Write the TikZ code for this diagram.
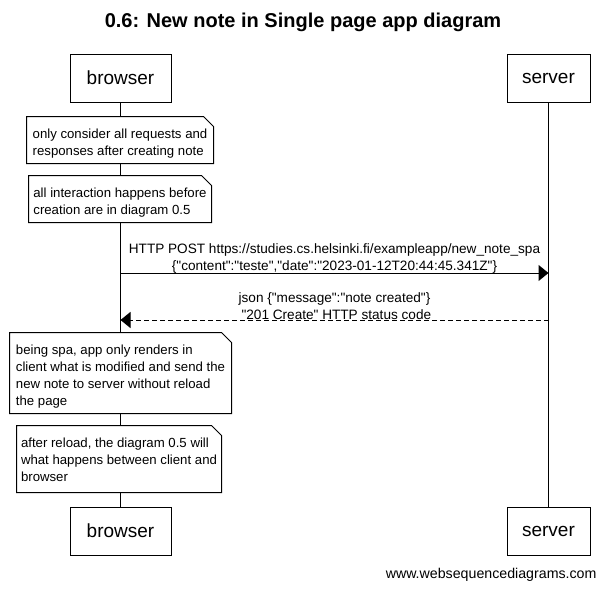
\documentclass[tikz,border=0pt]{standalone}
\usepackage{fontspec}
\setmainfont{Liberation Sans}[Ligatures=TeXOff]
\usetikzlibrary{arrows.meta,backgrounds}

% outline of a note with a cut corner
\newcommand\notebox[1]{%
  \draw (#1.north west) -- ([xshift=-10pt]#1.north east) -- ([yshift=-10pt]#1.north east)
    -- (#1.south east) -- (#1.south west) -- cycle;}

\begin{document}
\begin{tikzpicture}[x=1pt,y=-1pt,line width=1pt,
  actor/.style={draw,fill=white,minimum width=#1,minimum height=48pt,inner sep=0pt,font=\fontsize{19}{23}\selectfont},
  note/.style={fill=white,inner sep=0pt,align=left,text depth=8pt,font=\fontsize{13.2}{17}\selectfont},
  msglabel/.style={align=center,inner sep=0pt,font=\fontsize{13.6}{17}\selectfont},
  call/.style={-{Triangle[length=10pt,width=16pt]}},
  reply/.style={-{Triangle[length=10pt,width=16pt]},dash pattern=on 5pt off 3pt}]
\useasboundingbox (0,0) rectangle (606,589);

\node[font=\fontsize{20}{24}\selectfont\bfseries] (title) at (303,22.5) {0.6: New note in Single page app diagram};

% lifeline boxes
\node[actor=101pt] (browser) at (120.5,78) {browser};
\node[actor=83pt] (server) at (548.5,78) {server};
\node[actor=101pt] (browser end) at (120.5,531) {browser};
\node[actor=83pt] (server end) at (548.5,531) {server};

% notes
\node[note,minimum width=186pt,text height=38pt] (note1) at (120,140)
  {only consider all requests and\\responses after creating note};
\notebox{note1}
\node[note,minimum width=182pt,text height=38pt] (note2) at (120,199)
  {all interaction happens before\\creation are in diagram 0.5};
\notebox{note2}

% messages
\coordinate (b post) at (120.5,273);
\coordinate (s post) at (548.5,273);
\draw[call] (b post) -- (s post);
\node[msglabel,anchor=south] (post label) at (334.5,273.5)
  {HTTP POST https://studies.cs.helsinki.fi/exampleapp/new\_note\_spa\\
   \{"content":"teste","date":"2023-01-12T20:44:45.341Z"\}};

\coordinate (s json) at (548.5,320);
\coordinate (b json) at (120.5,320);
\draw[reply] (s json) -- (b json);
\node[msglabel,anchor=south] (json label) at (334.5,320)
  {json \{"message":"note created"\}\\
   \ "201 Create" HTTP status code};

\node[note,minimum width=221pt,text height=72pt] (note3) at (120.5,373)
  {being spa, app only renders in\\client what is modified and send the\\new note to server without reload\\the page};
\notebox{note3}
\node[note,minimum width=204pt,text height=55pt,text depth=11pt] (note4) at (119,459)
  {after reload, the diagram 0.5 will\\what happens between client and\\browser};
\notebox{note4}

\node[anchor=east,inner sep=0pt,font=\fontsize{14.2}{17}\selectfont] (wsd) at (597,575) {www.websequencediagrams.com};

\begin{scope}[on background layer]
\draw (browser) -- (browser end);
\draw (server) -- (server end);
\end{scope}
\end{tikzpicture}
\end{document}
